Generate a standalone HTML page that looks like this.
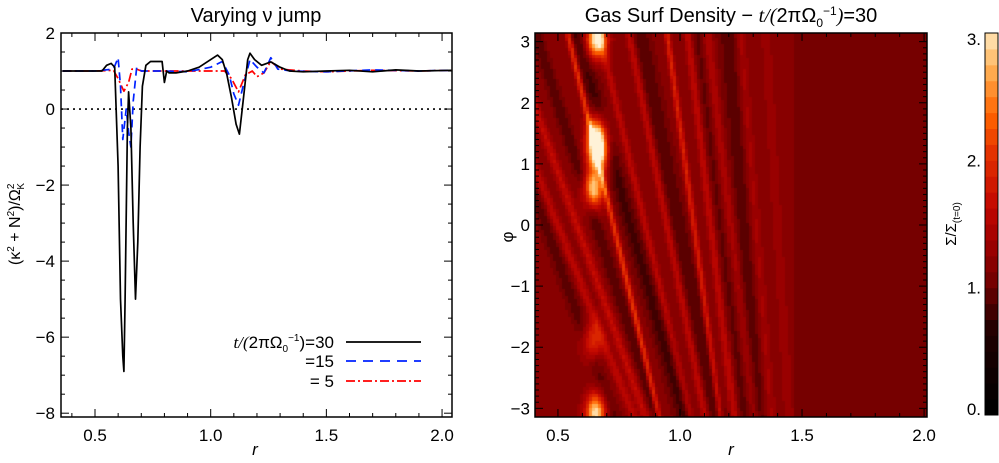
<!DOCTYPE html>
<html><head><meta charset="utf-8">
<style>
html,body{margin:0;padding:0;background:#fff;}
body{width:999px;height:463px;position:relative;overflow:hidden;font-family:"Liberation Sans",sans-serif;}
svg{position:absolute;left:0;top:0;}
text{font-family:"Liberation Sans",sans-serif;fill:#000;}
</style></head>
<body>
<svg id="chart" width="999" height="463" xmlns="http://www.w3.org/2000/svg">
  <text x="256" y="22" font-size="20" text-anchor="middle">Varying ν jump</text>
  <text x="731" y="22" font-size="20" text-anchor="middle">Gas Surf Density − <tspan font-style="italic" font-family="Liberation Serif">t/(</tspan>2πΩ<tspan font-size="12" dy="5">0</tspan><tspan font-size="12" dy="-12">−1</tspan><tspan dy="7" font-style="italic" font-family="Liberation Serif">)</tspan>=30</text>
  <g id="left-plot"></g>
  <g id="right-plot"></g>
  <g id="colorbar"></g>
  <text transform="translate(20,224) rotate(-90)" font-size="16" text-anchor="middle">(κ<tspan font-size="10" dy="-6">2</tspan><tspan dy="6"> + N</tspan><tspan font-size="10" dy="-6">2</tspan><tspan dy="6">)/Ω</tspan><tspan font-size="10" dy="-6">2</tspan><tspan font-size="10" dx="-6" dy="10">K</tspan></text>
  <text x="255" y="455" font-size="17" font-style="italic" font-family="Liberation Serif" text-anchor="middle">r</text>
  <text x="731" y="455" font-size="17" font-style="italic" font-family="Liberation Serif" text-anchor="middle">r</text>
  <text transform="translate(513,237) rotate(-90)" font-size="17" text-anchor="middle">φ</text>
  <text transform="translate(956,224) rotate(-90)" font-size="15" text-anchor="middle">Σ/Σ<tspan font-size="10" dy="4">(t=0)</tspan></text>
  <g>
    <text x="334" y="348" font-size="17" text-anchor="end"><tspan font-style="italic" font-family="Liberation Serif">t/(</tspan>2πΩ<tspan font-size="10" dy="4">0</tspan><tspan font-size="10" dy="-11">−1</tspan><tspan dy="7">)=30</tspan></text>
    <line x1="346" y1="342" x2="421" y2="342" stroke="#000" stroke-width="1.8"/>
    <text x="334" y="367" font-size="17" text-anchor="end">=15</text>
    <line x1="346" y1="361" x2="421" y2="361" stroke="#0022ff" stroke-width="1.8" stroke-dasharray="10,7"/>
    <text x="334" y="387" font-size="17" text-anchor="end">= 5</text>
    <line x1="346" y1="381" x2="421" y2="381" stroke="#ff0000" stroke-width="1.8" stroke-dasharray="9,3,2,3"/>
  </g>
</svg>
<script>
// ---- left chart data ----
const rBlack = [0.36,0.45,0.53,0.55,0.57,0.585,0.60,0.61,0.62,0.625,0.63,0.64,0.645,0.655,0.665,0.675,0.685,0.695,0.705,0.72,0.74,0.79,0.80,0.81,0.82,0.85,0.9,0.95,1.0,1.03,1.05,1.07,1.09,1.11,1.124,1.14,1.16,1.17,1.19,1.22,1.26,1.3,1.34,1.4,1.5,1.6,1.7,1.8,1.9,2.04];
const yBlack = [1.0,1.0,1.0,1.15,1.2,1.1,-1.5,-5.0,-6.5,-6.9,-5.0,-0.5,0.45,-0.5,-3.0,-5.0,-3.5,-1.0,0.6,1.15,1.25,1.25,0.7,1.0,0.95,0.95,1.0,1.1,1.3,1.42,1.3,0.9,0.3,-0.4,-0.66,0.2,1.3,1.47,1.3,1.15,1.24,1.1,1.0,0.98,1.0,1.02,0.98,1.03,1.0,1.02];
const rBlue = [0.36,0.5,0.58,0.60,0.61,0.62,0.635,0.645,0.655,0.665,0.68,0.7,0.8,0.9,1.0,1.05,1.08,1.1,1.12,1.14,1.17,1.2,1.23,1.26,1.29,1.35,1.5,1.7,1.9,2.04];
const yBlue = [1.0,1.0,1.05,1.35,0.6,-0.8,0.0,-0.6,-1.0,0.2,1.1,1.0,1.0,0.98,1.1,1.25,0.9,0.4,0.1,0.6,1.3,1.1,0.95,1.35,1.05,1.0,0.98,1.03,1.0,1.02];
const rRed = [0.36,0.5,0.58,0.6,0.625,0.645,0.66,0.68,0.7,0.8,0.9,1.0,1.06,1.09,1.12,1.15,1.18,1.2,1.23,1.26,1.3,1.4,1.5,1.7,1.9,2.04];
const yRed = [1.0,1.0,1.02,0.8,0.47,0.7,1.05,1.05,1.0,1.0,1.0,1.0,1.0,0.8,0.45,0.9,1.0,0.85,0.95,1.25,1.05,1.0,0.98,1.02,1.0,1.02];
const xTicksL = [0.5,1.0,1.5,2.0];
const yTicksL = [2,0,-2,-4,-6,-8];
// ---- heatmap feature data ----
const streakR0 = [0.73,0.58,0.50,0.86,0.95,1.06,1.13,1.21,1.31,0.80,1.00,1.26,0.66,1.40,0.45,1.17];
const streakSlope = [-0.06,-0.09,-0.10,-0.06,-0.05,-0.035,-0.03,-0.03,-0.02,-0.07,-0.05,-0.02,-0.08,-0.015,-0.09,-0.03];
const streakAmp = [0.9,0.45,0.4,0.4,0.45,0.7,0.45,0.3,0.25,-0.35,-0.3,-0.25,-0.3,0.15,-0.25,-0.2];
const streakWidth = [0.012,0.02,0.02,0.015,0.015,0.012,0.015,0.02,0.02,0.035,0.035,0.04,0.025,0.02,0.03,0.025];
const blobR = [0.66,0.665,0.655,0.64,0.645,0.66];
const blobPhi = [3.05,1.2,-3.05,-1.9,0.6,1.5];
const blobAmp = [2.0,2.1,1.8,0.9,1.7,1.6];
const cbTicks = [0,1,2,3];

const NS='http://www.w3.org/2000/svg';
function mk(tag, attrs, parent){const e=document.createElementNS(NS,tag);for(const k in attrs)e.setAttribute(k,attrs[k]);parent.appendChild(e);return e;}

// left axes
const L={x0:61,x1:452,y0:33,y1:417,rmin:0.353,rmax:2.043,vmin:-8.1,vmax:2.0};
const sxL=r=>L.x0+(r-L.rmin)/(L.rmax-L.rmin)*(L.x1-L.x0);
const syL=v=>L.y1-(v-L.vmin)/(L.vmax-L.vmin)*(L.y1-L.y0);
const lp=document.getElementById('left-plot');
const clip=mk('clipPath',{id:'clipL'},lp);
mk('rect',{x:L.x0,y:L.y0,width:L.x1-L.x0,height:L.y1-L.y0},clip);
const zero=mk('line',{x1:L.x0,x2:L.x1,y1:syL(0),y2:syL(0),stroke:'#000','stroke-width':1.6,'stroke-dasharray':'2,4'},lp);


function series(rs,ys,color,dash,name){
  const d=rs.map((r,i)=>(i?'L':'M')+sxL(r).toFixed(1)+','+syL(ys[i]).toFixed(1)).join(' ');
  const p=mk('path',{d:d,fill:'none',stroke:color,'stroke-width':1.7,'stroke-dasharray':dash,'clip-path':'url(#clipL)','stroke-linejoin':'round'},lp);
  
  
}
series(rRed,yRed,'#ff0000','9,3,2,3','series-t5');
series(rBlue,yBlue,'#0022ff','8,5','series-t15');
series(rBlack,yBlack,'#000','none','series-t30');
const fr=mk('rect',{x:L.x0,y:L.y0,width:L.x1-L.x0,height:L.y1-L.y0,fill:'none',stroke:'#000','stroke-width':1.5},lp);


for(let r=0.4;r<=2.041;r+=0.1){const x=sxL(r);const maj=Math.abs(r*2-Math.round(r*2))<1e-6;const t=maj?8:4;
  mk('line',{x1:x,x2:x,y1:L.y1,y2:L.y1-t,stroke:'#000','stroke-width':1},lp);mk('line',{x1:x,x2:x,y1:L.y0,y2:L.y0+t,stroke:'#000','stroke-width':1},lp);}
for(let v=-8;v<=2;v+=0.5){const y=syL(v);const maj=Math.abs(v/2-Math.round(v/2))<1e-6;const t=maj?8:4;
  mk('line',{x1:L.x0,x2:L.x0+t,y1:y,y2:y,stroke:'#000','stroke-width':1},lp);mk('line',{x1:L.x1,x2:L.x1-t,y1:y,y2:y,stroke:'#000','stroke-width':1},lp);}
xTicksL.forEach(r=>{const t=mk('text',{x:sxL(r),y:441,'font-size':17,'text-anchor':'middle'},lp);t.textContent=r.toFixed(1);
  
  });
yTicksL.forEach(v=>{const t=mk('text',{x:55,y:syL(v)+6,'font-size':17,'text-anchor':'end'},lp);t.textContent=(v<0?'−':'')+Math.abs(v);
  
  });

// colormap
const cmStops=[[0,[0,0,0]],[0.6,[32,0,0]],[1.0,[118,0,0]],[1.3,[160,0,0]],[1.6,[196,8,0]],[2.0,[228,50,0]],[2.3,[255,100,0]],[2.6,[255,165,70]],[2.8,[255,205,135]],[3.0,[255,242,215]]];
function cmap(v){v=Math.max(0,Math.min(3,Math.round(v*8)/8));for(let i=1;i<cmStops.length;i++){if(v<=cmStops[i][0]){const a=cmStops[i-1],b=cmStops[i];const f=(v-a[0])/(b[0]-a[0]);return 'rgb('+a[1].map((c,k)=>Math.round(c+(b[1][k]-c)*f)).join(',')+')';}}return 'rgb(255,242,215)';}

// heatmap
const R={x0:535,x1:927,y0:33,y1:417,rmin:0.406,rmax:2.012};
const sxR=r=>R.x0+(r-R.rmin)/(R.rmax-R.rmin)*(R.x1-R.x0);
const syR=p=>R.y1-(p+Math.PI)/(2*Math.PI)*(R.y1-R.y0);
const rp=document.getElementById('right-plot');
const fo=mk('foreignObject',{x:R.x0,y:R.y0,width:R.x1-R.x0,height:R.y1-R.y0},rp);
const cv=document.createElement('canvas');cv.width=R.x1-R.x0;cv.height=R.y1-R.y0;cv.style.display='block';


fo.appendChild(cv);
const ctx=cv.getContext('2d');
const NR=130,NP=110;
function density(r,p){
  if(r>1.47)return 1.0;
  let v=1.12;
  for(let i=0;i<streakR0.length;i++){const rc=streakR0[i]+streakSlope[i]*p;const d=(r-rc)/streakWidth[i];v+=streakAmp[i]*Math.exp(-d*d);}
  for(let i=0;i<blobR.length;i++){const dr=(r-blobR[i])/0.04,dp=(p-blobPhi[i])/0.3;v+=blobAmp[i]*Math.exp(-dr*dr-dp*dp);}
  return v;
}
for(let i=0;i<NR;i++){for(let j=0;j<NP;j++){
  const r=R.rmin+(i+0.5)/NR*(R.rmax-R.rmin),p=-Math.PI+(j+0.5)/NP*2*Math.PI;
  ctx.fillStyle=cmap(density(r,p));
  const x=(sxR(R.rmin+i/NR*(R.rmax-R.rmin))-R.x0),y=(syR(-Math.PI+(j+1)/NP*2*Math.PI)-R.y0);
  ctx.fillRect(Math.floor(x),Math.floor(y),Math.ceil(cv.width/NR)+1,Math.ceil(cv.height/NP)+1);
}}
const fr2=mk('rect',{x:R.x0,y:R.y0,width:R.x1-R.x0,height:R.y1-R.y0,fill:'none',stroke:'#000','stroke-width':1.5},rp);


for(let r=0.5;r<=2.001;r+=0.1){const x=sxR(r);const maj=Math.abs(r*2-Math.round(r*2))<1e-6;const t=maj?8:4;
  mk('line',{x1:x,x2:x,y1:R.y1,y2:R.y1-t,stroke:'#000','stroke-width':1},rp);mk('line',{x1:x,x2:x,y1:R.y0,y2:R.y0+t,stroke:'#000','stroke-width':1},rp);}
for(let p=-3;p<=3.001;p+=0.1){const y=syR(p);const maj=Math.abs(p-Math.round(p))<1e-6;const t=maj?8:4;
  mk('line',{x1:R.x0,x2:R.x0+t,y1:y,y2:y,stroke:'#000','stroke-width':1},rp);mk('line',{x1:R.x1,x2:R.x1-t,y1:y,y2:y,stroke:'#000','stroke-width':1},rp);}
xTicksL.forEach(r=>{const t=mk('text',{x:sxR(r),y:441,'font-size':17,'text-anchor':'middle'},rp);t.textContent=r.toFixed(1);
  
  });
[-3,-2,-1,0,1,2,3].forEach(v=>{const t=mk('text',{x:530,y:syR(v)+6,'font-size':17,'text-anchor':'end'},rp);t.textContent=(v<0?'−':'')+Math.abs(v);
  
  });

// colorbar
const cb=document.getElementById('colorbar');
const C={x0:985,x1:998,y0:33,y1:415};
const nLev=24;
for(let k=0;k<nLev;k++){const v0=k*3/nLev;const y1=C.y1-(k)/nLev*(C.y1-C.y0),y0=C.y1-(k+1)/nLev*(C.y1-C.y0);
  const rc=mk('rect',{x:C.x0,y:y0,width:C.x1-C.x0,height:y1-y0+0.5,fill:cmap(v0+0.06)},cb);
  
  }
mk('rect',{x:C.x0,y:C.y0,width:C.x1-C.x0,height:C.y1-C.y0,fill:'none',stroke:'#000','stroke-width':1},cb);
cbTicks.forEach(v=>{const y=C.y1-v/3*(C.y1-C.y0);const t=mk('text',{x:981,y:Math.min(Math.max(y+6,45),415),'font-size':17,'text-anchor':'end'},cb);t.textContent=v+'.';
  
  });
</script>
</body></html>
